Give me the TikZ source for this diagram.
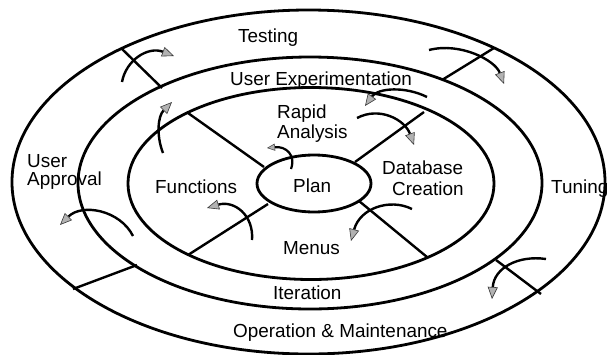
\documentclass[tikz,border=0pt]{standalone}
\usepackage{fontspec}
\setmainfont{Liberation Sans}
\usetikzlibrary{arrows.meta}
\tikzset{
  ring/.style={draw=black, line width=2.8pt},
  spoke/.style={draw=black, line width=2.4pt},
  flow/.style={draw=black, line width=2.4pt,
    -{Triangle[length=12pt,width=10pt,fill=gray!60,color=gray!45!black,line width=0.6pt]}},
  smallflow/.style={draw=black, line width=2.2pt,
    -{Triangle[length=8pt,width=7pt,fill=gray!60,color=gray!45!black,line width=0.5pt]}},
  lbl/.style={font=\fontsize{18.9}{21}\selectfont, inner sep=0pt, anchor=base west, text=black}
}
\begin{document}
\begin{tikzpicture}[x=1pt,y=-1pt]
\useasboundingbox[fill=white] (0,0) rectangle (608,354);
% rings
\draw[ring] (308.5,182) ellipse [x radius=296.5pt, y radius=172pt];
\draw[ring] (310,183) ellipse [x radius=232pt, y radius=126pt];
\draw[ring] (311,183.5) ellipse [x radius=183pt, y radius=96pt];
\draw[ring] (314,183.5) ellipse [x radius=57pt, y radius=28.5pt];
% inner spokes
\draw[spoke] (188,113) -- (264,167);
\draw[spoke] (424,112) -- (355,162);
\draw[spoke] (188,255) -- (268,204);
\draw[spoke] (359,201) -- (427,257);
% outer spokes
\draw[spoke] (122,49) -- (162,88);
\draw[spoke] (442,80) -- (494,48);
\draw[spoke] (137,265) -- (73,289);
\draw[spoke] (496,260) -- (541,294);
% curved arrows
\draw[flow] (122,82) .. controls (126,60) and (148,46) .. (174,56);
\draw[flow] (163,153) .. controls (156,135) and (158,116) .. (172,102);
\draw[smallflow] (291,169) .. controls (296,155) and (286,146) .. (267,148);
\draw[flow] (429,50) .. controls (460,42) and (495,60) .. (504,84);
\draw[flow] (427,97) .. controls (405,86) and (378,88) .. (365,106);
\draw[flow] (357,118) .. controls (380,106) and (405,120) .. (414,145);
\draw[flow] (252,240) .. controls (254,215) and (234,200) .. (207,208);
\draw[flow] (133,236) .. controls (120,210) and (82,203) .. (60,225);
\draw[flow] (412,209) .. controls (390,198) and (360,208) .. (351,241);
\draw[flow] (546,259) .. controls (518,255) and (494,268) .. (492,299);
% labels
\node[lbl] (testing) at (238,42) {Testing};
\node[lbl] (userexp) at (230,85) {User Experimentation};
\node[lbl] (rapid) at (277,118) {Rapid};
\node[lbl] (analysis) at (277,138) {Analysis};
\node[lbl] (database) at (382,174) {Database};
\node[lbl] (creation) at (392,195) {Creation};
\node[lbl] (plan) at (293,192) {Plan};
\node[lbl] (functions) at (155,193) {Functions};
\node[lbl] (menus) at (283,254) {Menus};
\node[lbl] (iteration) at (273,299) {Iteration};
\node[lbl] (operation) at (233,337) {Operation \& Maintenance};
\node[lbl] (user) at (27,167) {User};
\node[lbl] (approval) at (27,185) {Approval};
\node[lbl] (tuning) at (551,193) {Tuning};
\end{tikzpicture}
\end{document}
